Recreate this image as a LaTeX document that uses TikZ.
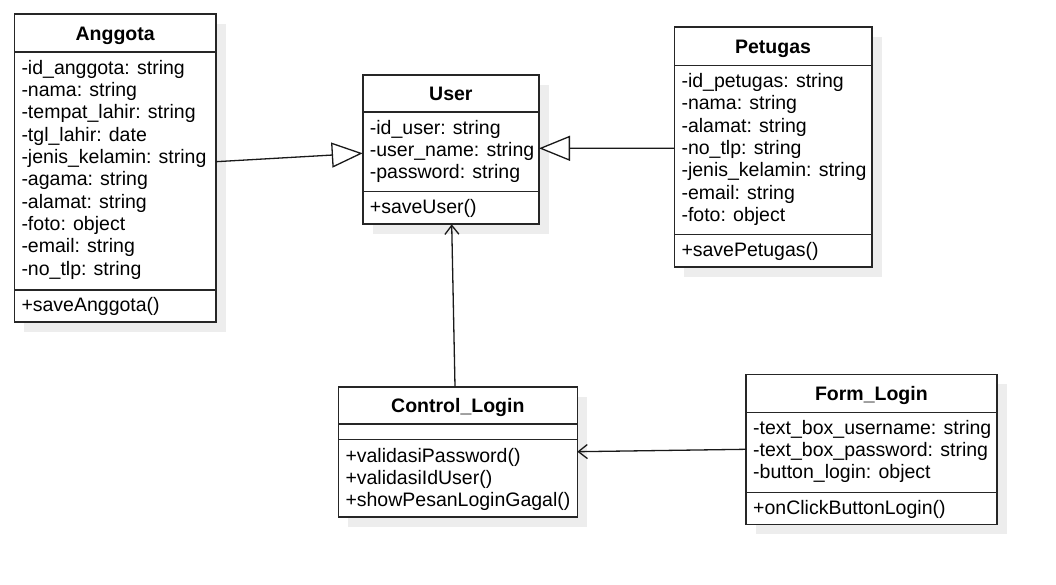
\documentclass[tikz,border=0pt]{standalone}
\usepackage{fontspec}
\setmainfont{Liberation Sans}
\usetikzlibrary{arrows.meta,calc}

% Class frame: name, left, top, right, bottom (drop shadow under it)
\newcommand\classframe[5]{%
  \fill[shadowbox] (#2+10,#3+10) rectangle (#4+10,#5+10);
  \node[classbox, minimum width={#4-#2}, minimum height={#5-#3}] (#1)
    at ({(#2+#4)/2},{(#3+#5)/2}) {};
}
% Compartment divider at a given depth below the top edge
\newcommand\classrule[2]{%
  \draw[divider] ([yshift=-#2pt]#1.north west) -- ([yshift=-#2pt]#1.north east);
}

\begin{document}
\begin{tikzpicture}[x=1pt,y=-1pt,
  classbox/.style={rectangle, draw=black!85, line width=1.6pt, fill=white,
    inner sep=0pt, outer sep=0pt},
  shadowbox/.style={fill=black!7, draw=none},
  divider/.style={draw=black!85, line width=1.6pt},
  title/.style={font=\bfseries\fontsize{19.5}{22}\selectfont, anchor=base,
    inner sep=0pt, text=black},
  member/.style={font=\fontsize{19.5}{22}\selectfont, anchor=base west,
    inner sep=0pt, text=black},
  link/.style={draw=black!90, line width=1.3pt},
  inherit/.style={link, -{Triangle[open, length=31pt, width=25pt, fill=white]}},
  dep/.style={link, -{Straight Barb[length=9pt, width=14pt]}}
]
\fill[white] (0,0) rectangle (1056,585);
\useasboundingbox (0,0) rectangle (1056,585);

% ---- class frames ----
\classframe{anggota}{14.3}{14.3}{216}{321.7}
\classframe{user}{362.7}{75}{539}{224.3}
\classframe{petugas}{674.3}{27.3}{871.7}{266.7}
\classframe{control}{338.3}{386.7}{577.3}{516.7}
\classframe{form}{746}{374.3}{996.7}{524.3}

% ---- compartment dividers ----
\classrule{anggota}{38}
\classrule{anggota}{275.4}
\classrule{user}{37.3}
\classrule{user}{116.7}
\classrule{petugas}{38.4}
\classrule{petugas}{207}
\classrule{control}{37.3}
\classrule{control}{52.6}
\classrule{form}{38}
\classrule{form}{118}

% ---- Anggota ----
\node[title] (anggota-t) at (115.15,40.3) {Anggota};
\foreach \t [count=\i] in {-id\_anggota: string, -nama: string,
    -tempat\_lahir: string, -tgl\_lahir: date, -jenis\_kelamin: string,
    -agama: string, -alamat: string, -foto: object, -email: string,
    -no\_tlp: string}
  \node[member] (anggota-a\i) at (21.3,{74.3+(\i-1)*22.3}) {\t};
\node[member] (anggota-m1) at (21.3,311.7) {+saveAnggota()};

% ---- User ----
\node[title] (user-t) at (450.85,100.4) {User};
\foreach \t [count=\i] in {-id\_user: string, -user\_name: string,
    -password: string}
  \node[member] (user-a\i) at (369.7,{134.3+(\i-1)*22.3}) {\t};
\node[member] (user-m1) at (369.7,213.7) {+saveUser()};

% ---- Petugas ----
\node[title] (petugas-t) at (773,53.2) {Petugas};
\foreach \t [count=\i] in {-id\_petugas: string, -nama: string,
    -alamat: string, -no\_tlp: string, -jenis\_kelamin: string,
    -email: string, -foto: object}
  \node[member] (petugas-a\i) at (681.3,{87.7+(\i-1)*22.3}) {\t};
\node[member] (petugas-m1) at (681.3,256.3) {+savePetugas()};

% ---- Control_Login ----
\node[title] (control-t) at (457.8,412) {Control\_Login};
\foreach \t [count=\i] in {+validasiPassword(), +validasiIdUser(),
    +showPesanLoginGagal()}
  \node[member] (control-m\i) at (345.3,{462+(\i-1)*22.3}) {\t};

% ---- Form_Login ----
\node[title] (form-t) at (871.35,400) {Form\_Login};
\foreach \t [count=\i] in {-text\_box\_username: string,
    -text\_box\_password: string, -button\_login: object}
  \node[member] (form-a\i) at (753,{434.3+(\i-1)*22.3}) {\t};
\node[member] (form-m1) at (753,514.3) {+onClickButtonLogin()};

% ---- relations ----
\draw[inherit] ([yshift=6.3pt]anggota.east) -- ([yshift=-3.65pt]user.west);
\draw[inherit] ([yshift=-1.3pt]petugas.west) -- ([yshift=1.35pt]user.east);
\draw[dep] ([xshift=-2.8pt]control.north) -- ([xshift=0.85pt]user.south);
\draw[dep] (form.west) -- (control.east);
\end{tikzpicture}
\end{document}
